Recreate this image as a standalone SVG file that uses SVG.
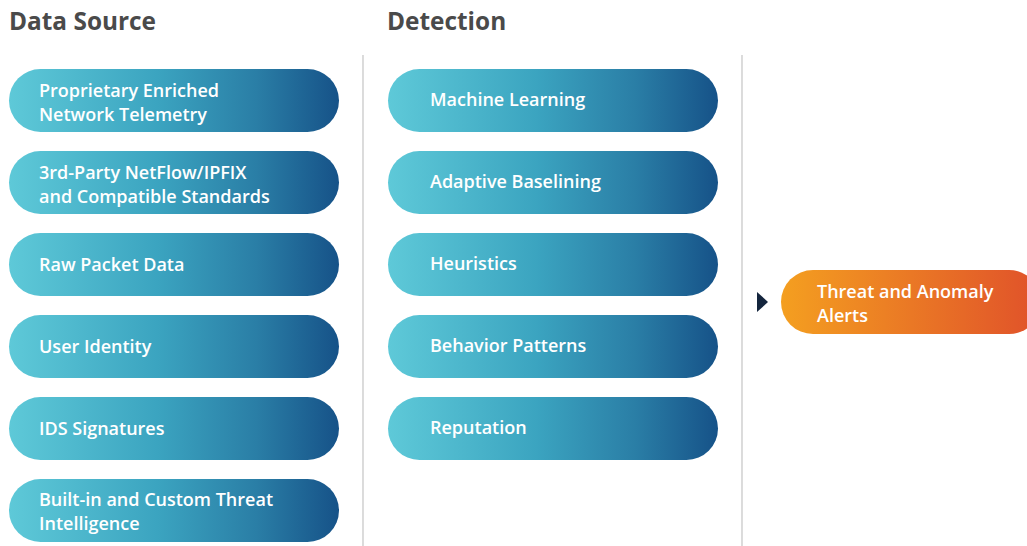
<svg xmlns="http://www.w3.org/2000/svg" width="1027" height="546" viewBox="0 0 1027 546">
<defs>
<linearGradient id="blue" x1="0" y1="0" x2="1" y2="0">
<stop offset="0" stop-color="#5ec9d8"/>
<stop offset="0.45" stop-color="#3ba4c0"/>
<stop offset="0.75" stop-color="#2a7ea6"/>
<stop offset="1" stop-color="#165288"/>
</linearGradient>
<linearGradient id="orange" x1="0" y1="0" x2="1" y2="0">
<stop offset="0" stop-color="#f49f20"/>
<stop offset="1" stop-color="#e0512a"/>
</linearGradient>
<style>
.hdr{font-family:"Open Sans","Liberation Sans",sans-serif;font-weight:700;font-size:24.4px;fill:#4a4a4a}
.lbl{font-family:"Open Sans","Liberation Sans",sans-serif;font-weight:600;font-size:18px;fill:#ffffff}
.pill{fill:url(#blue)}
.div{stroke:#c4c4c4;stroke-width:1.2}
</style>
</defs>
<rect width="1027" height="546" fill="#ffffff"/>
<text class="hdr" x="9" y="30">Data Source</text>
<text class="hdr" x="387" y="30">Detection</text>
<g id="dividers">
<line class="div" x1="363" y1="55" x2="363" y2="546"/>
<line class="div" x1="742" y1="55" x2="742" y2="546"/>
</g>
<g id="src1"><rect class="pill" x="9" y="69" width="330" height="63" rx="31.5"/><text class="lbl" x="39" y="97">Proprietary Enriched</text><text class="lbl" x="39" y="121">Network Telemetry</text></g>
<g id="src2"><rect class="pill" x="9" y="151" width="330" height="63" rx="31.5"/><text class="lbl" x="39" y="179">3rd-Party NetFlow/IPFIX</text><text class="lbl" x="39" y="203">and Compatible Standards</text></g>
<g id="src3"><rect class="pill" x="9" y="233" width="330" height="63" rx="31.5"/><text class="lbl" x="39" y="271">Raw Packet Data</text></g>
<g id="src4"><rect class="pill" x="9" y="315" width="330" height="63" rx="31.5"/><text class="lbl" x="39" y="353">User Identity</text></g>
<g id="src5"><rect class="pill" x="9" y="397" width="330" height="63" rx="31.5"/><text class="lbl" x="39" y="435">IDS Signatures</text></g>
<g id="src6"><rect class="pill" x="9" y="479" width="330" height="63" rx="31.5"/><text class="lbl" x="39" y="506">Built-in and Custom Threat</text><text class="lbl" x="39" y="530">Intelligence</text></g>
<g id="det1"><rect class="pill" x="388" y="69" width="330" height="63" rx="31.5"/><text class="lbl" x="430" y="106">Machine Learning</text></g>
<g id="det2"><rect class="pill" x="388" y="151" width="330" height="63" rx="31.5"/><text class="lbl" x="430" y="188">Adaptive Baselining</text></g>
<g id="det3"><rect class="pill" x="388" y="233" width="330" height="63" rx="31.5"/><text class="lbl" x="430" y="270">Heuristics</text></g>
<g id="det4"><rect class="pill" x="388" y="315" width="330" height="63" rx="31.5"/><text class="lbl" x="430" y="352">Behavior Patterns</text></g>
<g id="det5"><rect class="pill" x="388" y="397" width="330" height="63" rx="31.5"/><text class="lbl" x="430" y="434">Reputation</text></g>
<g id="connectors"><polygon points="757,292 768,302 757,312" fill="#14253d"/></g>
<g id="alerts"><rect x="781" y="270" width="260" height="64" rx="32" fill="url(#orange)"/><text class="lbl" x="817" y="298">Threat and Anomaly</text><text class="lbl" x="817" y="322">Alerts</text></g>
</svg>
